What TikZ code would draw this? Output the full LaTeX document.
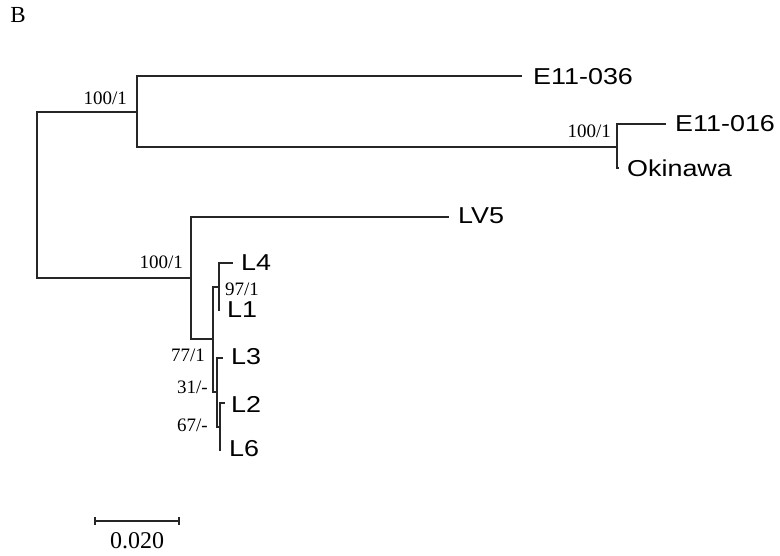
\documentclass[tikz,border=0pt]{standalone}
\usepackage{fontspec}
\setmainfont{Liberation Serif}
\newfontfamily\taxfont[FakeStretch=1.17]{Liberation Sans}
\begin{document}
\begin{tikzpicture}[x=1pt,y=-1pt,
  branch/.style={line width=1.4pt, black!85, line cap=rect},
  taxon/.style={anchor=west, inner sep=0pt, font=\taxfont\fontsize{23}{23}\selectfont},
  support/.style={inner sep=0pt, font=\fontsize{19}{19}\selectfont}]
\useasboundingbox (0,0) rectangle (780,556);

% panel letter
\node[inner sep=0pt, font=\fontsize{23}{23}\selectfont] (panel) at (18,15) {B};

% internal nodes and tips
\coordinate (R)   at (37,195);
\coordinate (nA)  at (137,112);
\coordinate (tE036) at (521,76);
\coordinate (nOk) at (617,147);
\coordinate (tE016) at (665,124);
\coordinate (tOk) at (618,168);
\coordinate (nB)  at (191,278);
\coordinate (tLV5) at (448,217);
\coordinate (n77) at (213,339);
\coordinate (n97) at (219,287);
\coordinate (tL4) at (232,263);
\coordinate (tL1) at (219.5,310);
\coordinate (n31) at (217,392);
\coordinate (tL3) at (222,358);
\coordinate (n67) at (220,427);
\coordinate (tL2) at (224,403);
\coordinate (tL6) at (220.5,450);

% branches
\draw[branch] (R) |- (nA);
\draw[branch] (R) |- (nB);
\draw[branch] (nA) |- (tE036);
\draw[branch] (nA) |- (nOk);
\draw[branch] (nOk) |- (tE016);
\draw[branch] (nOk) |- (tOk);
\draw[branch] (nB) |- (tLV5);
\draw[branch] (nB) |- (n77);
\draw[branch] (n77) |- (n97);
\draw[branch] (n77) |- (n31);
\draw[branch] (n97) |- (tL4);
\draw[branch] (n97) |- (tL1);
\draw[branch] (n31) |- (tL3);
\draw[branch] (n31) |- (n67);
\draw[branch] (n67) |- (tL2);
\draw[branch] (n67) |- (tL6);

% taxon labels
\node[taxon] (lE036) at (533,77) {E11-036};
\node[taxon] (lE016) at (675,124) {E11-016};
\node[taxon] (lOk)   at (627,168) {Okinawa};
\node[taxon] (lLV5)  at (458,216) {LV5};
\node[taxon] (lL4)   at (241,263) {L4};
\node[taxon] (lL1)   at (227,310) {L1};
\node[taxon] (lL3)   at (231,357) {L3};
\node[taxon] (lL2)   at (231,404) {L2};
\node[taxon] (lL6)   at (229,449) {L6};

% support values
\node[support, anchor=east] (sA)  at (127,98)  {100/1};
\node[support, anchor=east] (sOk) at (611,131) {100/1};
\node[support, anchor=east] (sB)  at (183,262) {100/1};
\node[support, anchor=west] (s97) at (225,289) {97/1};
\node[support, anchor=east] (s77) at (205,355) {77/1};
\node[support, anchor=east] (s31) at (208,387) {31/-};
\node[support, anchor=east] (s67) at (208,425) {67/-};

% scale bar
\coordinate (sbL) at (95,521);
\coordinate (sbR) at (179,521);
\draw[line width=1.4pt, black!85] (sbL) -- (sbR);
\draw[line width=1.4pt, black!85] ([yshift=4pt]sbL) -- ([yshift=-4pt]sbL);
\draw[line width=1.4pt, black!85] ([yshift=4pt]sbR) -- ([yshift=-4pt]sbR);
\node[inner sep=0pt, font=\fontsize{24}{24}\selectfont] (sblab) at (137,541) {0.020};
\end{tikzpicture}
\end{document}
